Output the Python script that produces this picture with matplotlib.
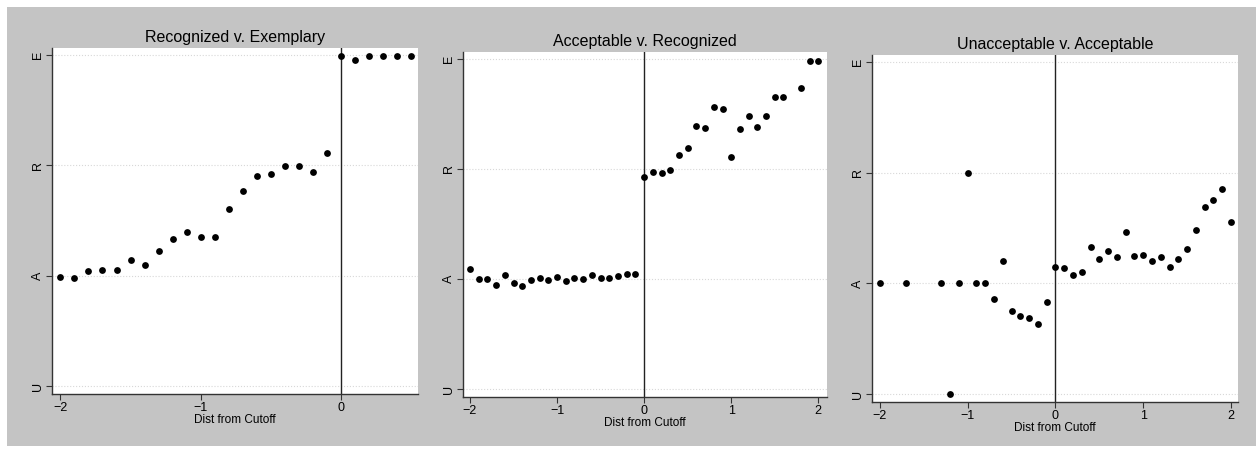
import matplotlib.pyplot as plt
from matplotlib.patches import Rectangle

plt.rcParams['font.family'] = ['Liberation Sans', 'DejaVu Sans']

# rating scale: U=1, A=2, R=3, E=4
ytick_vals = [1, 2, 3, 4]
ytick_labels = ['U', 'A', 'R', 'E']

# Recognized v. Exemplary
x1 = [-2.0, -1.9, -1.8, -1.7, -1.6, -1.5, -1.4, -1.3, -1.2, -1.1, -1.0, -0.9,
      -0.8, -0.7, -0.6, -0.5, -0.4, -0.3, -0.2, -0.1, 0.0, 0.1, 0.2, 0.3, 0.4, 0.5]
y1 = [1.985, 1.976, 2.04, 2.05, 2.05, 2.14, 2.10, 2.22, 2.33, 2.40, 2.35, 2.35,
      2.60, 2.77, 2.90, 2.92, 2.99, 2.99, 2.94, 3.11, 3.985, 3.95, 3.99, 3.99, 3.99, 3.99]

# Acceptable v. Recognized
x2 = [-2.0, -1.9, -1.8, -1.7, -1.6, -1.5, -1.4, -1.3, -1.2, -1.1, -1.0, -0.9,
      -0.8, -0.7, -0.6, -0.5, -0.4, -0.3, -0.2, -0.1, 0.0, 0.1, 0.2, 0.3, 0.4,
      0.5, 0.6, 0.7, 0.8, 0.9, 1.0, 1.1, 1.2, 1.3, 1.4, 1.5, 1.6, 1.8, 1.9, 2.0]
y2 = [2.09, 2.0, 2.0, 1.95, 2.04, 1.96, 1.94, 1.99, 2.01, 1.99, 2.02, 1.98,
      2.01, 2.0, 2.04, 2.01, 2.01, 2.03, 2.05, 2.05, 2.93, 2.97, 2.96, 2.99, 3.13,
      3.19, 3.39, 3.37, 3.56, 3.54, 3.11, 3.36, 3.48, 3.38, 3.48, 3.65, 3.65, 3.73, 3.98, 3.98]

# Unacceptable v. Acceptable
x3 = [-2.0, -1.7, -1.3, -1.2, -1.1, -1.0, -0.9, -0.8, -0.7, -0.6, -0.5, -0.4,
      -0.3, -0.2, -0.1, 0.0, 0.1, 0.2, 0.3, 0.4, 0.5, 0.6, 0.7, 0.8, 0.9, 1.0,
      1.1, 1.2, 1.3, 1.4, 1.5, 1.6, 1.7, 1.8, 1.9, 2.0]
y3 = [2.0, 2.0, 2.0, 1.0, 2.0, 3.0, 2.0, 2.0, 1.855, 2.20, 1.75, 1.71,
      1.69, 1.63, 1.83, 2.15, 2.14, 2.08, 2.10, 2.33, 2.22, 2.29, 2.24, 2.46, 2.25, 2.26,
      2.20, 2.24, 2.15, 2.22, 2.31, 2.48, 2.69, 2.75, 2.85, 2.55]

titles = ['Recognized v. Exemplary', 'Acceptable v. Recognized', 'Unacceptable v. Acceptable']
xs = [x1, x2, x3]
ys = [y1, y2, y3]
xlims = [(-2.06, 0.55), (-2.08, 2.1), (-2.09, 2.08)]
xticks = [[-2, -1, 0], [-2, -1, 0, 1, 2], [-2, -1, 0, 1, 2]]

W, H = 1260, 451
fig = plt.figure(figsize=(W / 100, H / 100), dpi=100, facecolor='white')
fig.patches.append(Rectangle((7 / W, 5 / H), 1249 / W, 439 / H, transform=fig.transFigure,
                             facecolor='#c4c4c4', edgecolor='none', zorder=-10))

# axes boxes in pixels: left, right, top, bottom
boxes = [(52, 418, 48, 394), (463, 827, 52, 397), (872, 1238, 55, 402)]

for i in range(3):
    l, r, t, b = boxes[i]
    ax = fig.add_axes([l / W, 1 - b / H, (r - l) / W, (b - t) / H])
    ax.set_facecolor('white')
    ax.scatter(xs[i], ys[i], s=24, color='black', zorder=3, linewidths=0)
    ax.axvline(0, color='#222222', linewidth=1.0, zorder=2)
    ax.set_xlim(*xlims[i])
    ax.set_ylim(0.93, 4.06)
    ax.set_xticks(xticks[i])
    ax.set_xticklabels([str(v).replace('-', '\u2212') for v in xticks[i]])
    ax.set_yticks(ytick_vals)
    ax.set_yticklabels(ytick_labels, rotation=90, va='center')
    for v in ytick_vals:
        ax.axhline(v, color='#d8d8d8', linewidth=0.8, linestyle=':', zorder=1)
    for s in ['top', 'right']:
        ax.spines[s].set_visible(False)
    for s in ['left', 'bottom']:
        ax.spines[s].set_color('#333333')
        ax.spines[s].set_linewidth(1.0)
    ax.tick_params(axis='both', labelsize=9, length=4, width=0.8, color='#333333', pad=2)
    ax.set_xlabel('Dist from Cutoff', fontsize=8.5, labelpad=0)
    ax.set_title(titles[i], fontsize=11.5, pad=4)

fig.savefig('out.png', dpi=100)
